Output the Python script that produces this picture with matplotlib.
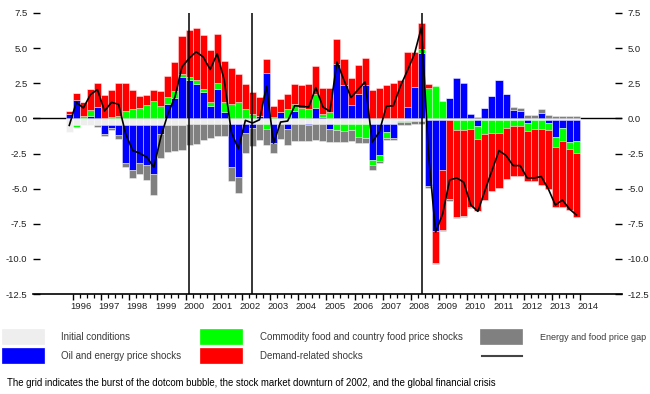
import matplotlib
matplotlib.use("Agg")
import matplotlib.pyplot as plt
import numpy as np
from matplotlib.patches import Rectangle
from matplotlib.lines import Line2D
import matplotlib.transforms as mtransforms

plt.rcParams['font.family'] = ['Liberation Sans', 'DejaVu Sans']

# ---------------- data ----------------
# quarters 1995Q4 ... 2013Q4 (73 bars)
quarters = ["1995Q4"] + [f"{y}Q{q}" for y in range(1996, 2014) for q in range(1, 5)]
year_labels = [str(y) for y in range(1996, 2015)]

initial = ([-0.95] + [-0.5] * 16 + [-0.43] * 12 + [-0.38] * 18 + [-0.19] * 4
           + [-0.15] * 10 + [-0.12] * 12)

oil = [0.3, 1.33, 0.0, 0.2, 0.8, -0.64, -0.2, -0.7, -2.65, -3.2,
       -2.7, -2.8, -3.45, -0.6, 1.05, 1.45, 2.95, 2.76, 2.43, 1.9,
       0.88, 2.12, 0.45, -3.05, -3.76, -0.6, -0.24, 0.19, 3.24, -1.38,
       0.45, -0.36, 0.55, 0.0, -0.1, 0.76, 0.1, -0.36, 3.9, 2.36,
       0.98, 1.76, 2.36, -2.57, -2.26, -0.6, -1.0, 0.0, 0.81, 2.24,
       4.67, -4.64, -7.85, -3.52, 1.48, 2.9, 2.52, 0.33, -0.42, 0.74,
       1.6, 2.76, 1.76, 0.62, 0.52, -0.23, 0.0, 0.38, -0.2, -1.23,
       -0.59, -1.54, -1.47]

commodity = [0.0, -0.12, 0.2, 0.4, 0.0, 0.05, 0.1, 0.2, 0.52, 0.64,
             0.71, 0.98, 1.24, 0.86, 0.48, 0.48, 0.19, 0.17, 0.29, 0.17,
             0.31, 0.38, 0.71, 1.05, 1.14, 0.64, 0.33, 0.0, -0.31, 0.1,
             0.0, 0.64, 0.5, 0.76, 0.69, 1.0, 0.2, 0.45, -0.43, -0.52,
             -0.43, -0.95, -1.0, -0.4, -0.36, -0.4, 0.0, -0.1, -0.1, 0.0,
             0.24, 2.19, 2.29, 1.21, 0.0, -0.66, -0.66, -0.61, -0.88, -0.95,
             -0.9, -0.9, -0.56, -0.42, -0.42, -0.52, -0.66, -0.66, -0.5, -0.72,
             -0.88, -0.52, -0.9]

demand = [0.2, 0.46, 1.0, 1.5, 1.75, 1.64, 1.95, 2.3, 2.0, 1.38,
          0.91, 0.71, 0.81, 1.1, 1.47, 2.05, 2.72, 3.36, 3.73, 3.88,
          3.67, 3.48, 2.93, 2.5, 2.0, 1.83, 1.52, 1.36, 1.02, 0.76,
          0.93, 1.07, 1.43, 1.64, 1.76, 1.95, 1.89, 1.74, 1.72, 1.85,
          1.92, 2.05, 1.97, 2.05, 2.19, 2.4, 2.55, 2.76, 3.93, 2.5,
          1.86, 0.29, -2.26, -4.28, -5.59, -6.19, -6.12, -5.57, -5.12, -4.69,
          -4.09, -3.9, -3.67, -3.53, -3.53, -3.58, -3.67, -3.98, -4.2, -4.23,
          -4.71, -4.31, -4.53]

price_gap = [0.0, 0.0, 0.0, 0.0, -0.08, -0.1, -0.12, -0.25, -0.34, -0.55,
             -0.76, -1.12, -1.5, -1.7, -1.9, -1.83, -1.74, -1.5, -1.36, -1.1,
             -0.95, -0.84, -0.84, -1.0, -1.14, -1.4, -1.3, -1.14, -1.19, -0.71,
             -1.09, -1.19, -1.2, -1.2, -1.1, -1.15, -1.2, -0.95, -0.88, -0.8,
             -0.83, -0.43, -0.38, -0.31, -0.19, -0.14, -0.19, -0.15, -0.19, -0.2,
             -0.2, -0.17, -0.07, -0.08, -0.12, -0.12, -0.12, -0.05, -0.05, 0.0,
             0.0, 0.0, 0.0, 0.17, 0.24, 0.24, 0.24, 0.31, 0.24, 0.19,
             0.14, 0.14, 0.19]

total = [-0.5, 1.14, 0.74, 1.69, 2.05, 0.52, 1.14, 1.0, -1.1, -2.29,
         -2.48, -2.76, -3.48, -1.33, 0.33, 1.52, 3.67, 4.26, 4.74, 4.38,
         3.48, 4.6, 2.71, -0.98, -2.17, -0.14, -0.33, -0.1, 2.29, -1.76,
         -0.26, -0.19, 0.9, 0.86, 0.81, 2.19, 0.81, 0.5, 4.02, 2.71,
         1.48, 2.05, 2.6, -1.69, -0.98, 0.86, 0.9, 2.29, 3.4, 4.6,
         6.5, -2.6, -8.1, -6.8, -4.38, -4.24, -4.55, -6.17, -6.62, -5.14,
         -3.71, -2.29, -2.64, -3.36, -3.36, -4.24, -4.24, -4.14, -5.02, -6.17,
         -5.81, -6.45, -6.88]

event_quarters = ["2000Q1", "2002Q2", "2008Q2"]

series_names = ["Initial conditions", "Oil and energy price shocks",
                "Commodity food and country food price shocks",
                "Demand-related shocks", "Energy and food price gap"]
series_vals = [initial, oil, commodity, demand, price_gap]
series_colors = ["#eeeeee", "#0000ff", "#00ff00", "#ff0000", "#808080"]

# ---------------- figure ----------------
W, H = 650, 394
fig = plt.figure(figsize=(W / 100, H / 100), dpi=100)
ax = fig.add_axes([33 / W, 1 - 294 / H, 589 / W, 281 / H])

x = np.arange(len(quarters))
pos_base = np.zeros(len(x))
neg_base = np.zeros(len(x))
for vals, col in zip(series_vals, series_colors):
    v = np.asarray(vals, dtype=float)
    base = np.where(v >= 0, pos_base, neg_base)
    ax.bar(x, v, bottom=base, width=1.0, color=col,
           edgecolor=(1, 1, 1, 0.55), linewidth=0.5, zorder=2)
    pos_base = pos_base + np.where(v >= 0, v, 0)
    neg_base = neg_base + np.where(v < 0, v, 0)

ax.axhline(0, color="black", lw=1.0, zorder=1)
ax.plot(x, total, color="black", lw=1.2, zorder=4)
for q in event_quarters:
    ax.axvline(quarters.index(q), color="black", lw=1.1, zorder=5)

ax.set_xlim(-5.15, 78.46)
ax.set_ylim(-12.5, 7.5)

for s in ["top", "left", "right"]:
    ax.spines[s].set_visible(False)
ax.spines["bottom"].set_linewidth(1.2)

yt = np.arange(-12.5, 7.6, 2.5)
ax.set_yticks(yt)
ax.set_yticklabels([f"{v:.1f}" for v in yt])
ax.tick_params(axis="y", direction="in", length=5, width=1.0,
               left=True, right=True, labelleft=True, labelright=True,
               pad=4, labelsize=6.8, labelcolor="#222222")

ax.set_xticks(np.arange(0.5, len(x) + 0.1, 4))
ax.set_xticks(np.arange(0.5, len(x) + 0.1, 1), minor=True)
ax.tick_params(axis="x", which="major", direction="out", length=4.2, width=1.0,
               labelbottom=False)
ax.tick_params(axis="x", which="minor", direction="out", length=3.0, width=0.9)

trans = mtransforms.blended_transform_factory(ax.transData, ax.transAxes)
for k, lab in enumerate(year_labels):
    ax.annotate(lab, xy=(0.5 + 4 * k + 1.17, 0), xycoords=trans,
                xytext=(0, -6), textcoords="offset points",
                ha="center", va="top", fontsize=6.8, color="#222222")

# ---------------- legend ----------------
def fig_rect(x0, y0, x1, y1, color):
    fig.add_artist(Rectangle((x0 / W, 1 - y1 / H), (x1 - x0) / W, (y1 - y0) / H,
                             transform=fig.transFigure, facecolor=color,
                             edgecolor=color, lw=0.5))

renderer = fig.canvas.get_renderer()

def fit_size(s, target_w, ref=10):
    t = fig.text(0, 0, s, fontsize=ref)
    w = t.get_window_extent(renderer).width
    t.remove()
    return ref * target_w / w

fig_rect(2, 329, 44, 344, series_colors[0])
fig_rect(200, 329, 242, 344, series_colors[2])
fig_rect(480, 329, 522, 344, series_colors[4])
fig_rect(2, 348, 44, 363, series_colors[1])
fig_rect(200, 348, 242, 363, series_colors[3])
fig.add_artist(Line2D([482 / W, 522 / W], [1 - 356 / H, 1 - 356 / H],
                      transform=fig.transFigure, color="#444444", lw=1.5))

lc = "#3a3a3a"
leg_fs = (fit_size(series_names[2], 205) + fit_size(series_names[1], 122)) / 2
last_fs = min(leg_fs, fit_size(series_names[4], 106))
legend_pos = [(61, 337), (61, 356), (260, 337), (260, 356), (540, 337)]
for i, (name, (px, py)) in enumerate(zip(series_names, legend_pos)):
    fig.text(px / W, 1 - py / H, name, color=lc, ha="left", va="center",
             fontsize=last_fs if i == 4 else leg_fs)

caption = ("The grid indicates the burst of the dotcom bubble, the stock market "
           "downturn of 2002, and the global financial crisis")
fig.text(7 / W, 1 - 383 / H, caption, color="black", ha="left", va="center",
         fontsize=fit_size(caption, 492))

fig.savefig("out.png", dpi=100)
